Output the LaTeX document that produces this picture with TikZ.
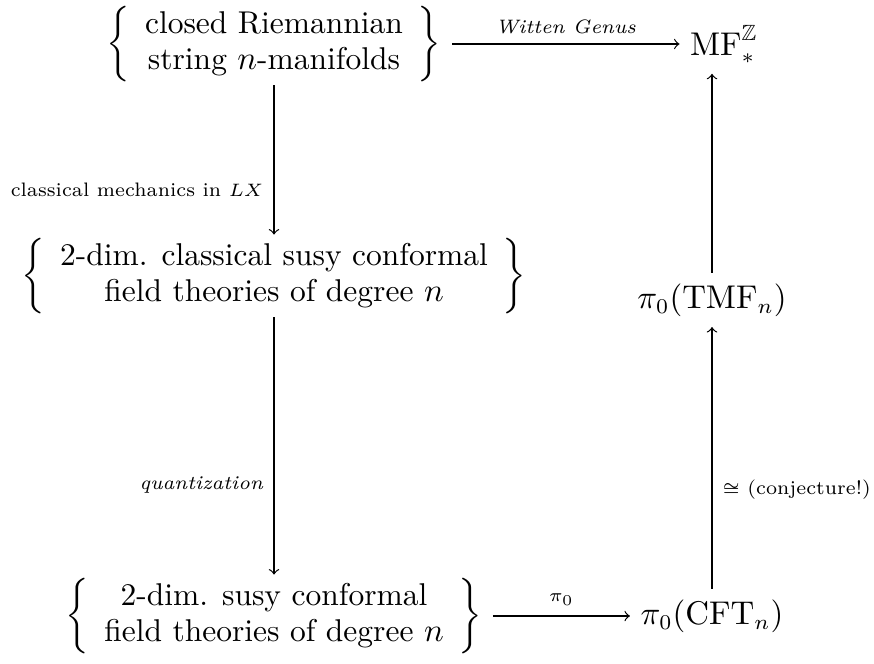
\documentclass[tikz,border=0pt]{standalone}
\usepackage{amsmath,amssymb}
\begin{document}
\begin{tikzpicture}[x=0.3333pt,y=-0.3333pt,lbl/.style={font=\fontsize{6.5}{8}\selectfont},obj/.style={font=\fontsize{10.5}{12}\selectfont},setbox/.style={obj,inner ysep=1pt}]
\useasboundingbox (0,0) rectangle (874,663);
\node (mfd) [setbox] at (274,44) {$\left\{\begin{array}{c}\text{closed Riemannian}\\ \text{string $n$-manifolds}\end{array}\right\}$};
\node (mf) [obj] at (724,44) {$\mathrm{MF}^{\mathbb{Z}}_{*}$};
\node (ccft) [setbox] at (274,276) {$\left\{\begin{array}{c}\text{2-dim. classical susy conformal}\\ \text{field theories of degree $n$}\end{array}\right\}$};
\node (tmf) [obj] at (712,300) {$\pi_0(\mathrm{TMF}_n)$};
\node (qcft) [setbox] at (274,616) {$\left\{\begin{array}{c}\text{2-dim. susy conformal}\\ \text{field theories of degree $n$}\end{array}\right\}$};
\node (cft) [obj] at (712,616) {$\pi_0(\mathrm{CFT}_n)$};
\draw [->] (mfd)--(mf) node [lbl,midway,above] {\textit{Witten Genus}};
\draw [->] (mfd)--(ccft) node [lbl,pos=0.7,left] {classical mechanics in $LX$};
\draw [->] (ccft)--(qcft) node [lbl,pos=0.65,left] {\textit{quantization}};
\draw [->] (qcft)--(cft) node [lbl,midway,above] {$\pi_0$};
\draw [->] (cft)--(tmf) node [lbl,pos=0.38,right] {$\cong$ (conjecture!)};
\draw [->] (tmf.north)--(tmf.north |- mf.south);
\end{tikzpicture}
\end{document}
